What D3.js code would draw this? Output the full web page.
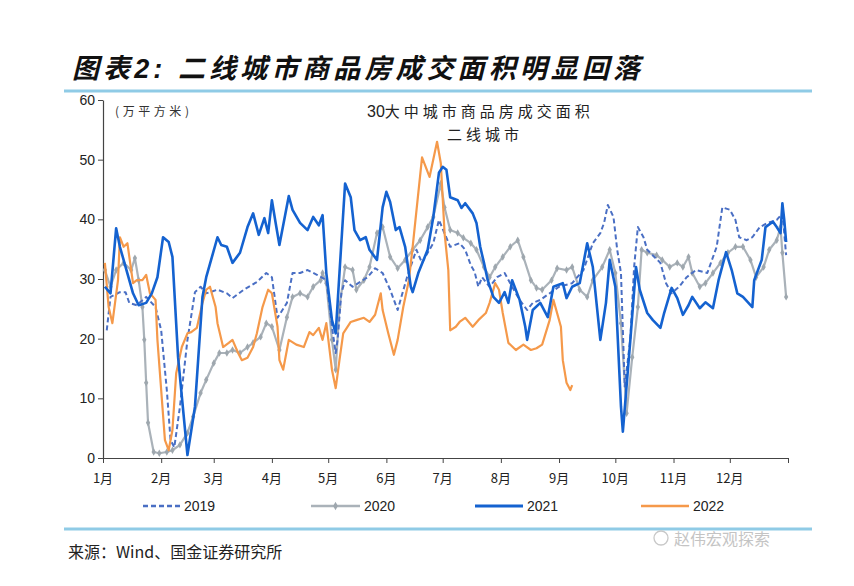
<!DOCTYPE html>
<html><head><meta charset="utf-8">
<script src="https://cdn.jsdelivr.net/npm/d3@7"></script>
<style>
html,body{margin:0;padding:0;background:#fff;}
svg{display:block;}
</style></head>
<body>
<svg id="chart" width="854" height="586"></svg>
<script>
const monthLabels = ["1月","2月","3月","4月","5月","6月","7月","8月","9月","10月","11月","12月"];
const monthStartDays = [0,31,59,90,120,151,181,212,243,273,304,334,365];
const yTicks = [0,10,20,30,40,50,60];
const seriesNames = ["2019","2020","2021","2022"];

// [day of year, 万平方米]
const s2019 = [[2,21.4],[4,27],[9,27.8],[12,27.8],[14,26],[18,25.6],[23,27],[28,25.3],[31,21.4],[34,11.4],[36,3],[38,1.8],[41,8.6],[45,19.8],[49,27.8],[52,28.7],[55,27.6],[61,28.2],[66,27.6],[69,26.8],[75,28.2],[82,29.5],[87,31],[90,30.3],[93,23.5],[98,26],[101,31],[105,31],[109,31.5],[114,30.7],[119,29.8],[122,22],[124,17.6],[125,19.8],[127,27.6],[129,29.8],[133,28.7],[136,29.3],[141,30.3],[145,31.8],[149,31],[153,28.2],[157,24.8],[159,27],[162,30.3],[167,34.9],[170,32.7],[173,34.4],[176,36],[179,39.9],[185,35.4],[190,36],[193,34.9],[196,32.3],[198,31.2],[200,28.7],[202,30.3],[206,28.7],[210,30.3],[214,31],[218,28.7],[222,26.5],[226,24.8],[229,26],[233,26.5],[238,27.6],[243,28.7],[250,29.3],[256,31.5],[261,36],[265,37.7],[267,39.4],[269,42.4],[272,40.4],[274,34.9],[276,31],[278,12],[281,20],[283,32],[285,38.7],[288,37],[290,34.9],[297,32.7],[300,29.3],[303,27.6],[307,28.7],[311,30.3],[316,31.5],[322,31],[327,35.4],[330,42],[334,41.6],[337,39.9],[339,37],[343,36.5],[346,37],[350,38.7],[354,39.4],[359,39.9],[362,41],[363,37.7],[364,34]];

const s2020 = [[1,31.5],[4,28.7],[7,31.5],[11,32.7],[15,31.5],[17,33.5],[19,29.8],[21,25.3],[22,19.8],[23,12.6],[24,5.9],[27,1],[30,0.8],[34,1],[37,1.3],[41,2.2],[45,4.2],[48,6.9],[52,10.9],[55,13.1],[59,15.9],[62,17.6],[66,17.6],[69,18.1],[73,17.6],[77,18.6],[80,19.3],[84,20.3],[87,22.6],[90,22],[94,18.1],[98,23.6],[101,27],[105,27.6],[109,27],[112,28.7],[116,29.8],[117,31],[119,29.3],[122,19.8],[124,14.8],[126,25.3],[129,32],[133,31.5],[135,28.2],[139,29.8],[142,32],[146,37.7],[149,38.7],[153,33.7],[157,31.8],[161,33.2],[165,34.9],[169,36.5],[173,38.7],[176,40.4],[180,46],[182,42],[185,38.2],[189,37.7],[192,36.9],[196,36],[199,34.9],[203,32],[206,30.3],[209,32],[213,33.7],[217,35.4],[221,36.5],[224,33.7],[228,29.8],[231,28.5],[234,28.2],[239,29.8],[242,31.8],[247,31.5],[250,32],[254,28.2],[258,27],[261,29.8],[266,32],[270,34.9],[273,31],[276,22.6],[279,7.5],[282,16.9],[285,25.3],[287,34.9],[290,34.4],[295,34],[298,33.2],[302,32],[306,32.7],[309,32],[312,33.7],[314,31],[318,28.7],[321,29.3],[325,31],[329,32.7],[333,34.4],[337,35.4],[341,35.4],[345,33.2],[348,30.3],[352,32],[355,34.9],[359,36.5],[361,38.7],[362,34.4],[364,27]];

const s2021 = [[1,28.7],[4,27.6],[7,38.5],[9,35.4],[16,27.6],[19,25.6],[23,26],[26,27.6],[29,30.3],[32,37],[35,36.2],[37,33.7],[40,16.9],[45,0.5],[49,8.6],[53,27],[55,30.3],[61,37],[63,35.7],[66,35.4],[69,32.7],[73,34.4],[77,38.7],[80,41],[83,37.4],[86,40.2],[88,37.7],[90,43.2],[92,39.4],[94,35.7],[99,43.9],[101,41.6],[105,39.4],[109,38.2],[112,40.4],[115,39],[117,40.7],[119,31],[122,23.1],[124,20.9],[126,31],[129,46],[132,43.7],[134,38.2],[137,36.5],[140,37],[142,34.9],[146,33.2],[149,42],[151,44.6],[153,42.9],[156,38.2],[158,38.7],[161,35.4],[164,28.7],[165,27.8],[168,31],[173,34.9],[176,40.4],[179,47.8],[181,48.8],[183,48.3],[185,43.7],[189,43.2],[191,41.9],[193,42.7],[197,41],[199,39.4],[201,35.4],[203,32.7],[205,29.8],[208,27],[211,26],[214,27.8],[216,26],[218,29.8],[222,26.5],[225,22],[226,19.8],[229,24.8],[233,26],[237,23.6],[240,28.7],[245,29.3],[247,26.8],[250,28.7],[254,29.3],[258,36],[261,32],[265,19.8],[268,26],[270,33.2],[273,28.7],[276,8.6],[277,4.4],[281,19.8],[284,32],[286,28.2],[290,24.3],[293,23.1],[297,21.8],[299,24.3],[303,28.5],[306,26.8],[309,24],[312,25.6],[314,27],[318,25.1],[321,26.1],[325,25.1],[328,29.8],[332,34.5],[335,31.5],[338,27.6],[341,27],[346,25.3],[347,29.8],[351,33.2],[353,38.7],[357,39.6],[359,38.7],[361,37.7],[362,42.7],[363,39.9],[364,36.2]];

const s2022 = [[1,32.7],[3,25.3],[5,22.6],[8,29.8],[9,37],[11,35.4],[13,36],[16,29.3],[18,29.8],[21,29.8],[23,30.7],[25,27.6],[28,26.5],[29,19.8],[31,11.4],[33,3],[35,1.3],[37,4.7],[39,14.2],[42,18.6],[45,20.9],[47,21.1],[50,21.8],[53,26],[55,28.2],[57,28.7],[60,25.3],[61,22.6],[64,18.6],[67,19.3],[69,19.8],[72,17.6],[74,16.4],[77,16.8],[80,18.6],[82,20.9],[85,25.3],[88,28.2],[90,27.6],[93,22],[94,16.4],[96,14.8],[99,19.8],[103,19],[107,18.6],[110,21.1],[112,20.6],[115,21.8],[117,19.8],[119,22.6],[122,14.8],[124,11.7],[126,16.4],[128,20.9],[132,22.8],[135,23.1],[139,23.5],[142,22.8],[145,24],[148,27.6],[149,24.8],[152,20.9],[155,17.3],[157,19.8],[160,25.3],[163,29.8],[165,35.4],[170,50.4],[174,47.1],[178,53],[180,49.4],[182,37.7],[184,31.5],[185,21.4],[188,22],[190,22.8],[193,23.5],[197,22],[200,23.1],[204,24.3],[206,26],[209,29.3],[211,28.2],[213,24.3],[216,19.3],[220,18.1],[224,19],[228,18.1],[231,18.4],[234,19],[238,23.1],[240,26.5],[244,22],[245,16.4],[247,12.6],[249,11.4],[250,12.2]];

const svg = d3.select("#chart");
const x = d3.scaleLinear().domain([0,365]).range([103,788]);
const y = d3.scaleLinear().domain([0,60]).range([458,100]);
const cjk = "'Noto Sans CJK SC','Noto Sans',sans-serif";
const latin = "'Liberation Sans',Arial,sans-serif";

// Title
const title = svg.append("text").attr("x",72).attr("y",78)
  .attr("font-family",cjk).attr("font-weight","bold").attr("font-style","italic")
  .attr("font-size",27).attr("fill","#111")
  .attr("textLength",568).attr("lengthAdjust","spacing");
title.append("tspan").text("图表");
title.append("tspan").attr("font-family",latin).text("2: ");
title.append("tspan").text("二线城市商品房成交面积明显回落");

// rules
svg.append("line").attr("x1",64).attr("x2",812).attr("y1",91).attr("y2",91)
  .attr("stroke","#8fcbe6").attr("stroke-width",3);
svg.append("line").attr("x1",64).attr("x2",812).attr("y1",529).attr("y2",529)
  .attr("stroke","#8fcbe6").attr("stroke-width",3);

// Axes
const yAxis = d3.axisLeft(y).tickValues(yTicks).tickSize(5).tickSizeOuter(0);
const gy = svg.append("g").attr("transform","translate(103,0)").call(yAxis);
gy.select(".domain").attr("stroke","#444").attr("stroke-width",1.2);
gy.selectAll(".tick line").attr("stroke","#444");
gy.selectAll(".tick text").attr("font-family",latin).attr("font-size",14).attr("fill","#222").attr("x",-8);

const xAxis = d3.axisBottom(x).tickValues(monthStartDays).tickSize(5).tickSizeOuter(0).tickFormat(() => "");
const gx = svg.append("g").attr("transform","translate(0,458)").call(xAxis);
gx.select(".domain").attr("stroke","#444").attr("stroke-width",1.2);
gx.selectAll(".tick line").attr("stroke","#444");

svg.append("g").selectAll("text").data(monthLabels).join("text")
  .attr("x",(d,i)=>x(monthStartDays[i]))
  .attr("y",483)
  .attr("text-anchor","middle")
  .attr("font-family",cjk).attr("font-size",13).attr("fill","#222")
  .text(d=>d);

// Unit label and inner title
svg.append("text").attr("x",115).attr("y",116).attr("font-family",cjk).attr("font-size",12).attr("fill","#333")
  .attr("textLength",74).attr("lengthAdjust","spacing").text("(万平方米)");
const t1 = svg.append("text").attr("x",367).attr("y",117).attr("font-family",cjk).attr("font-size",15).attr("fill","#222");
t1.append("tspan").attr("font-family",latin).attr("font-size",16).text("30");
t1.append("tspan").attr("letter-spacing",4).text("大中城市商品房成交面积");
svg.append("text").attr("x",447).attr("y",140).attr("font-family",cjk).attr("font-size",15).attr("fill","#222")
  .attr("letter-spacing",4).text("二线城市");

const line = d3.line().x(d=>x(d[0])).y(d=>y(d[1]));

const styles = {
  "2019": {color:"#4a6fc4", width:2, dash:"5,3"},
  "2020": {color:"#aab2b9", width:2.2, dash:null},
  "2021": {color:"#1462d0", width:2.6, dash:null},
  "2022": {color:"#f5994a", width:2.2, dash:null}
};
const dataMap = {"2019":s2019,"2020":s2020,"2021":s2021,"2022":s2022};
const drawOrder = ["2020","2019","2022","2021"];

const plot = svg.append("g");
drawOrder.forEach(k=>{
  const st = styles[k];
  plot.append("path").datum(dataMap[k])
    .attr("d",line).attr("fill","none")
    .attr("stroke",st.color).attr("stroke-width",st.width)
    .attr("stroke-linejoin","round")
    .attr("stroke-dasharray",st.dash);
  if(k==="2020"){
    plot.append("g").selectAll("path").data(dataMap[k]).join("path")
      .attr("transform",d=>`translate(${x(d[0])},${y(d[1])})`)
      .attr("d",d3.symbol(d3.symbolDiamond,16)())
      .attr("fill","#9ea7ae");
  }
});

// Legend
const legendItems = [
  {k:"2019", x1:143, x2:180, tx:184},
  {k:"2020", x1:311, x2:360, tx:364},
  {k:"2021", x1:475, x2:523, tx:527},
  {k:"2022", x1:641, x2:689, tx:693}
];
const lg = svg.append("g");
legendItems.forEach(it=>{
  const st = styles[it.k];
  lg.append("line").attr("x1",it.x1).attr("x2",it.x2).attr("y1",506).attr("y2",506)
    .attr("stroke",st.color).attr("stroke-width",it.k==="2021"?3:2.4)
    .attr("stroke-dasharray",st.dash);
  if(it.k==="2020"){
    lg.append("path").attr("transform",`translate(${(it.x1+it.x2)/2},506)`)
      .attr("d",d3.symbol(d3.symbolDiamond,20)()).attr("fill","#9ea7ae");
  }
  lg.append("text").attr("x",it.tx).attr("y",511).attr("font-family",latin)
    .attr("font-size",14).attr("fill","#222").text(it.k);
});

// Source
svg.append("text").attr("x",68).attr("y",558).attr("font-family",cjk).attr("font-size",16).attr("fill","#222")
  .text("来源：Wind、国金证券研究所");
// watermark
svg.append("circle").attr("cx",661).attr("cy",538).attr("r",7).attr("fill","none").attr("stroke","#c8c8c8").attr("stroke-width",1.3);
svg.append("text").attr("x",674).attr("y",545).attr("font-family",cjk).attr("font-size",16).attr("fill","#c4c4c4")
  .text("赵伟宏观探索");
</script>
</body></html>
